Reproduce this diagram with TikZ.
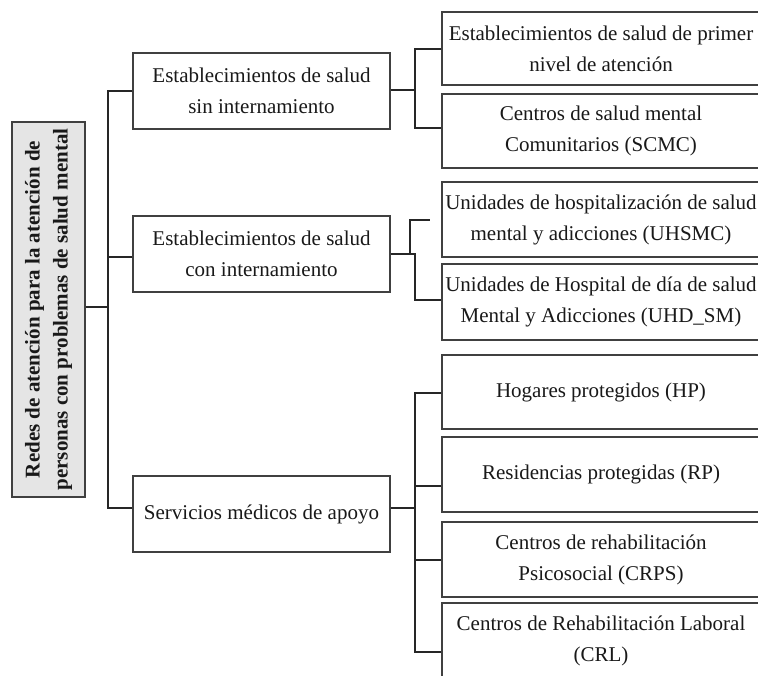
\documentclass[tikz,border=0pt]{standalone}
\usepackage{fontspec}
\setmainfont{Liberation Serif}
\begin{document}
\begin{tikzpicture}[x=1pt,y=-1pt,
  box/.style={draw=black!75, line width=1.3pt, fill=white, align=center, inner sep=0pt,
    text=black!90, font=\fontsize{21}{31}\selectfont},
  lone/.style={box, minimum width=257pt, minimum height=76pt},
  ltwo/.style={box, minimum width=318pt, minimum height=75pt},
  conn/.style={draw=black!85, line width=1.3pt}]
\clip (0,0) rectangle (758,675);
\useasboundingbox (0,0) rectangle (758,675);

% root
\node[box, fill=gray!20, font=\bfseries\fontsize{21}{28}\selectfont, rotate=90,
  minimum width=375pt, minimum height=73pt] (root) at (48.5,309.5)
  {Redes de atención para la atención de\\personas con problemas de salud mental};

% level 1
\node[lone] (b1) at (261.5,91) {Establecimientos de salud\\sin internamiento};
\node[lone] (b2) at (261.5,254) {Establecimientos de salud\\con internamiento};
\node[lone] (b3) at (261.5,514) {Servicios médicos de apoyo};

% level 2
\node[ltwo, minimum height=73pt] (A) at (601,48.5) {Establecimientos de salud de primer\\nivel de atención};
\node[ltwo, minimum height=74pt] (B) at (601,131) {Centros de salud mental\\Comunitarios (SCMC)};
\node[ltwo] (C) at (601,219.5) {Unidades de hospitalización de salud\\mental y adicciones (UHSMC)};
\node[ltwo, minimum height=76pt] (D) at (601,302) {Unidades de Hospital de día de salud\\Mental y Adicciones (UHD\_SM)};
\node[ltwo, minimum height=74pt] (E) at (601,392) {Hogares protegidos (HP)};
\node[ltwo] (F) at (601,474.5) {Residencias protegidas (RP)};
\node[ltwo] (G) at (601,559.5) {Centros de rehabilitación\\Psicosocial (CRPS)};
\node[ltwo, minimum height=76pt] (H) at (601,641) {Centros de Rehabilitación Laboral\\(CRL)};

% trunk
\coordinate (t) at (108,307);
\draw[conn] (root.south |- t) -- (t);
\draw[conn] (b1.west |- 0,91) -| (t);
\draw[conn] (t) |- (b3.west |- 0,508);
\draw[conn] (b2.west |- 0,257) -- (t |- 0,257);

% group 1
\coordinate (j1) at (415,90);
\draw[conn] (b1.east |- j1) -- (j1);
\draw[conn] (A.west |- 0,49) -| (j1) |- (B.west |- 0,128);

% group 2
\coordinate (j2) at (415,254);
\coordinate (k2) at (410,254);
\coordinate (c2) at (430,220);
\draw[conn] (b2.east |- j2) -- (j2) |- (D.west |- 0,300);
\draw[conn] (k2) |- (c2);

% group 3
\coordinate (j3) at (415,508);
\draw[conn] (b3.east |- j3) -- (j3);
\draw[conn] (E.west |- 0,393) -| (j3 |- 0,652) -- (H.west |- 0,652);
\draw[conn] (j3 |- 0,486) -- (F.west |- 0,486);
\draw[conn] (j3 |- 0,560) -- (G.west |- 0,560);
\end{tikzpicture}
\end{document}
